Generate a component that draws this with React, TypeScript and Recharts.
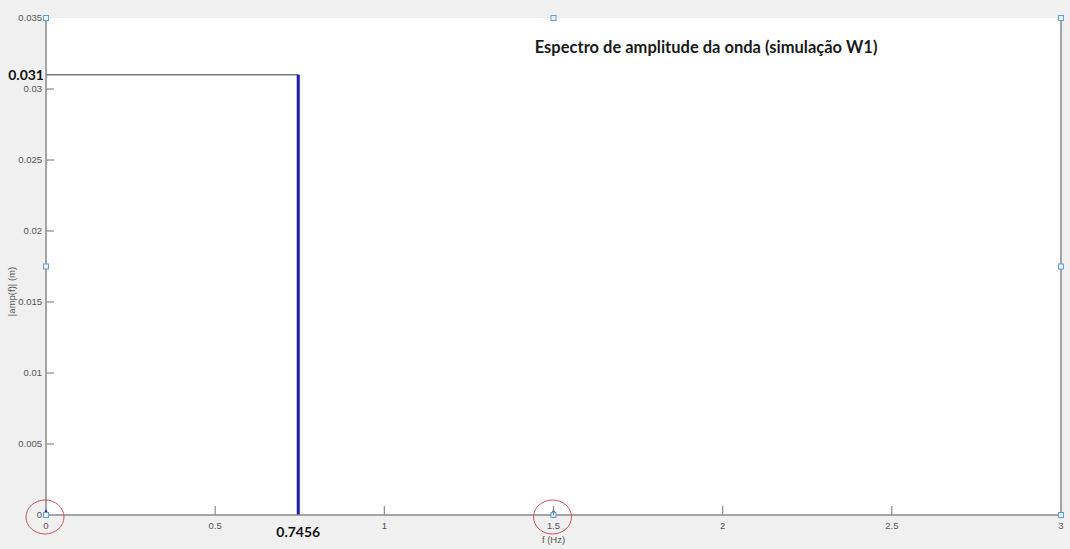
import React from 'react';
import { ComposedChart, Line, XAxis, YAxis, ReferenceDot } from 'recharts';

const xTicks = [0, 0.5, 0.7456, 1, 1.5, 2, 2.5, 3];
const xTickLabels = ['0', '0.5', '0.7456', '1', '1.5', '2', '2.5', '3'];
const yTicks = [0, 0.005, 0.01, 0.015, 0.02, 0.025, 0.03, 0.031, 0.035];
const yTickLabels = ['0', '0.005', '0.01', '0.015', '0.02', '0.025', '0.03', '0.031', '0.035'];
const highlightX = [0.7456];
const highlightY = [0.031];

const stemFreq = [0.7456, 0.7456];
const stemAmp = [0, 0.031];
const guideFreq = [0, 0.7456];
const guideAmp = [0.031, 0.031];
const handleFreq = [0, 1.5, 3, 0, 3, 0, 1.5, 3];
const handleAmp = [0.035, 0.035, 0.035, 0.0175, 0.0175, 0, 0, 0];
const circleFreq = [0, 1.5];
const circleAmp = [0, 0];
const tipFreq = [0, 1.5];
const tipAmp = [0, 0];

const title = 'Espectro de amplitude da onda (simulação W1)';
const titleFreq = 1.951;
const titleAmp = 0.0329;
const xLabel = 'f (Hz)';
const yLabel = '|amp(f)| (m)';

const stemData = stemFreq.map((x, i) => ({ x, y: stemAmp[i] }));
const guideData = guideFreq.map((x, i) => ({ x, y: guideAmp[i] }));

const AXIS = '#8a8a8a';
const TXT = '#555';
const FONT = 'Liberation Sans, Arial, sans-serif';

const BottomTick = (props: any) => {
  const { x, y, payload } = props;
  const v = payload.value;
  const label = xTickLabels[xTicks.indexOf(v)];
  const isEnd = v === 0 || v === 3;
  if (highlightX.includes(v)) {
    return (
      <text x={x} y={y + 22} textAnchor="middle" fontFamily="Lato, sans-serif" fontWeight="bold" fontSize={14} fill="#111">
        {label}
      </text>
    );
  }
  return (
    <g>
      {!isEnd && <line x1={x} y1={y} x2={x} y2={y - 9} stroke={AXIS} strokeWidth={1.2} />}
      <text x={x} y={y + 14} textAnchor="middle" fontFamily={FONT} fontSize={9.5} fill={TXT}>
        {label}
      </text>
    </g>
  );
};

const TopTick = (props: any) => {
  const { x, y, payload } = props;
  const v = payload.value;
  if (v === 0 || v === 3) return <g />;
  return <line x1={x} y1={y} x2={x} y2={y + 7} stroke={AXIS} strokeWidth={1.2} />;
};

const LeftTick = (props: any) => {
  const { x, y, payload } = props;
  const v = payload.value;
  const label = yTickLabels[yTicks.indexOf(v)];
  const isEnd = v === 0 || v === 0.035;
  if (highlightY.includes(v)) {
    return (
      <text x={x - 2} y={y + 5} textAnchor="end" fontFamily="Lato, sans-serif" fontWeight="bold" fontSize={14} fill="#111">
        {label}
      </text>
    );
  }
  return (
    <g>
      {!isEnd && <line x1={x} y1={y} x2={x + 8} y2={y} stroke={AXIS} strokeWidth={1.2} />}
      <text x={x - 4} y={y + 3} textAnchor="end" fontFamily={FONT} fontSize={9.5} fill={TXT}>
        {label}
      </text>
    </g>
  );
};

const RightTick = (props: any) => {
  const { x, y, payload } = props;
  const v = payload.value;
  if (v === 0 || v === 0.035) return <g />;
  return <line x1={x} y1={y} x2={x - 9} y2={y} stroke={AXIS} strokeWidth={1.2} />;
};

const HandleShape = (props: any) => {
  const { cx, cy } = props;
  return <rect x={cx - 2.5} y={cy - 2.5} width={5} height={5} fill="#e8f2fb" stroke="#5fa0d8" strokeWidth={1} />;
};

const CircleShape = (props: any) => {
  const { cx, cy } = props;
  return <ellipse cx={cx - 1} cy={cy + 2} rx={19} ry={17} fill="none" stroke="#c8545a" strokeWidth={1} />;
};

const TipShape = (props: any) => {
  const { cx, cy } = props;
  return <path d={`M ${cx - 3} ${cy} L ${cx} ${cy - 6} L ${cx + 3} ${cy} Z`} fill="#1f2a9a" />;
};

const TitleLabel = (props: any) => {
  const { viewBox } = props;
  return (
    <text x={viewBox.x + (viewBox.width || 0) / 2} y={viewBox.y + 5} textAnchor="middle" fontFamily="Lato, sans-serif" fontWeight="bold" fontSize={16.5} fill="#1a1a1a">
      {title}
    </text>
  );
};

const YLabel = (props: any) => {
  const { viewBox } = props;
  const cx = 12;
  const cy = viewBox.y + viewBox.height / 2 + 25;
  return (
    <text x={cx} y={cy} transform={`rotate(-90 ${cx} ${cy})`} textAnchor="middle" dominantBaseline="middle" fontFamily={FONT} fontSize={9.5} fill={TXT}>
      {yLabel}
    </text>
  );
};

const XLabel = (props: any) => {
  const { viewBox } = props;
  const cx = viewBox.x + viewBox.width / 2;
  return (
    <text x={cx} y={543} textAnchor="middle" fontFamily={FONT} fontSize={9.5} fill={TXT}>
      {xLabel}
    </text>
  );
};

export default function App() {
  return (
    <div style={{ position: 'absolute', left: 0, top: 0, width: 1070, height: 549, background: '#f0f0f0' }}>
      <ComposedChart width={1070} height={549} margin={{ top: 18, right: 0, bottom: 0, left: 0 }}>
        <rect x={46} y={18} width={1015} height={497} fill="#ffffff" />
        <XAxis
          xAxisId="b"
          type="number"
          dataKey="x"
          domain={[0, 3]}
          ticks={xTicks}
          interval={0}
          height={34}
          tickSize={0}
          tickMargin={0}
          tick={<BottomTick />}
          axisLine={{ stroke: AXIS, strokeWidth: 1.5 }}
          tickLine={false}
          allowDataOverflow
          label={<XLabel />}
        />
        <XAxis
          xAxisId="t"
          orientation="top"
          type="number"
          dataKey="x"
          domain={[0, 3]}
          ticks={xTicks}
          interval={0}
          height={0}
          tickSize={0}
          tickMargin={0}
          tick={<TopTick />}
          axisLine={{ stroke: AXIS, strokeWidth: 1.5 }}
          tickLine={false}
        />
        <YAxis
          yAxisId="l"
          type="number"
          domain={[0, 0.035]}
          ticks={yTicks}
          interval={0}
          width={46}
          tickSize={0}
          tickMargin={0}
          tick={<LeftTick />}
          axisLine={{ stroke: AXIS, strokeWidth: 1.5 }}
          tickLine={false}
          allowDataOverflow
          label={<YLabel />}
        />
        <YAxis
          yAxisId="r"
          orientation="right"
          type="number"
          domain={[0, 0.035]}
          ticks={yTicks}
          interval={0}
          width={9}
          tickSize={0}
          tickMargin={0}
          tick={<RightTick />}
          axisLine={{ stroke: AXIS, strokeWidth: 1.5 }}
          tickLine={false}
        />
        <Line
          xAxisId="b"
          yAxisId="l"
          data={guideData}
          dataKey="y"
          stroke="#7a7a7a"
          strokeWidth={1.5}
          dot={false}
          isAnimationActive={false}
        />
        <Line
          xAxisId="b"
          yAxisId="l"
          data={stemData}
          dataKey="y"
          stroke="#1c1cb0"
          strokeWidth={3}
          dot={false}
          isAnimationActive={false}
        />
        {circleFreq.map((x, i) => (
          <ReferenceDot key={'c' + i} xAxisId="b" yAxisId="l" x={x} y={circleAmp[i]} ifOverflow="visible" shape={<CircleShape />} />
        ))}
        {tipFreq.map((x, i) => (
          <ReferenceDot key={'t' + i} xAxisId="b" yAxisId="l" x={x} y={tipAmp[i]} ifOverflow="visible" shape={<TipShape />} />
        ))}
        {handleFreq.map((x, i) => (
          <ReferenceDot key={'h' + i} xAxisId="b" yAxisId="l" x={x} y={handleAmp[i]} ifOverflow="visible" shape={<HandleShape />} />
        ))}
        <ReferenceDot xAxisId="b" yAxisId="l" x={titleFreq} y={titleAmp} r={0} ifOverflow="visible" fill="none" stroke="none" label={<TitleLabel />} />
      </ComposedChart>
    </div>
  );
}
